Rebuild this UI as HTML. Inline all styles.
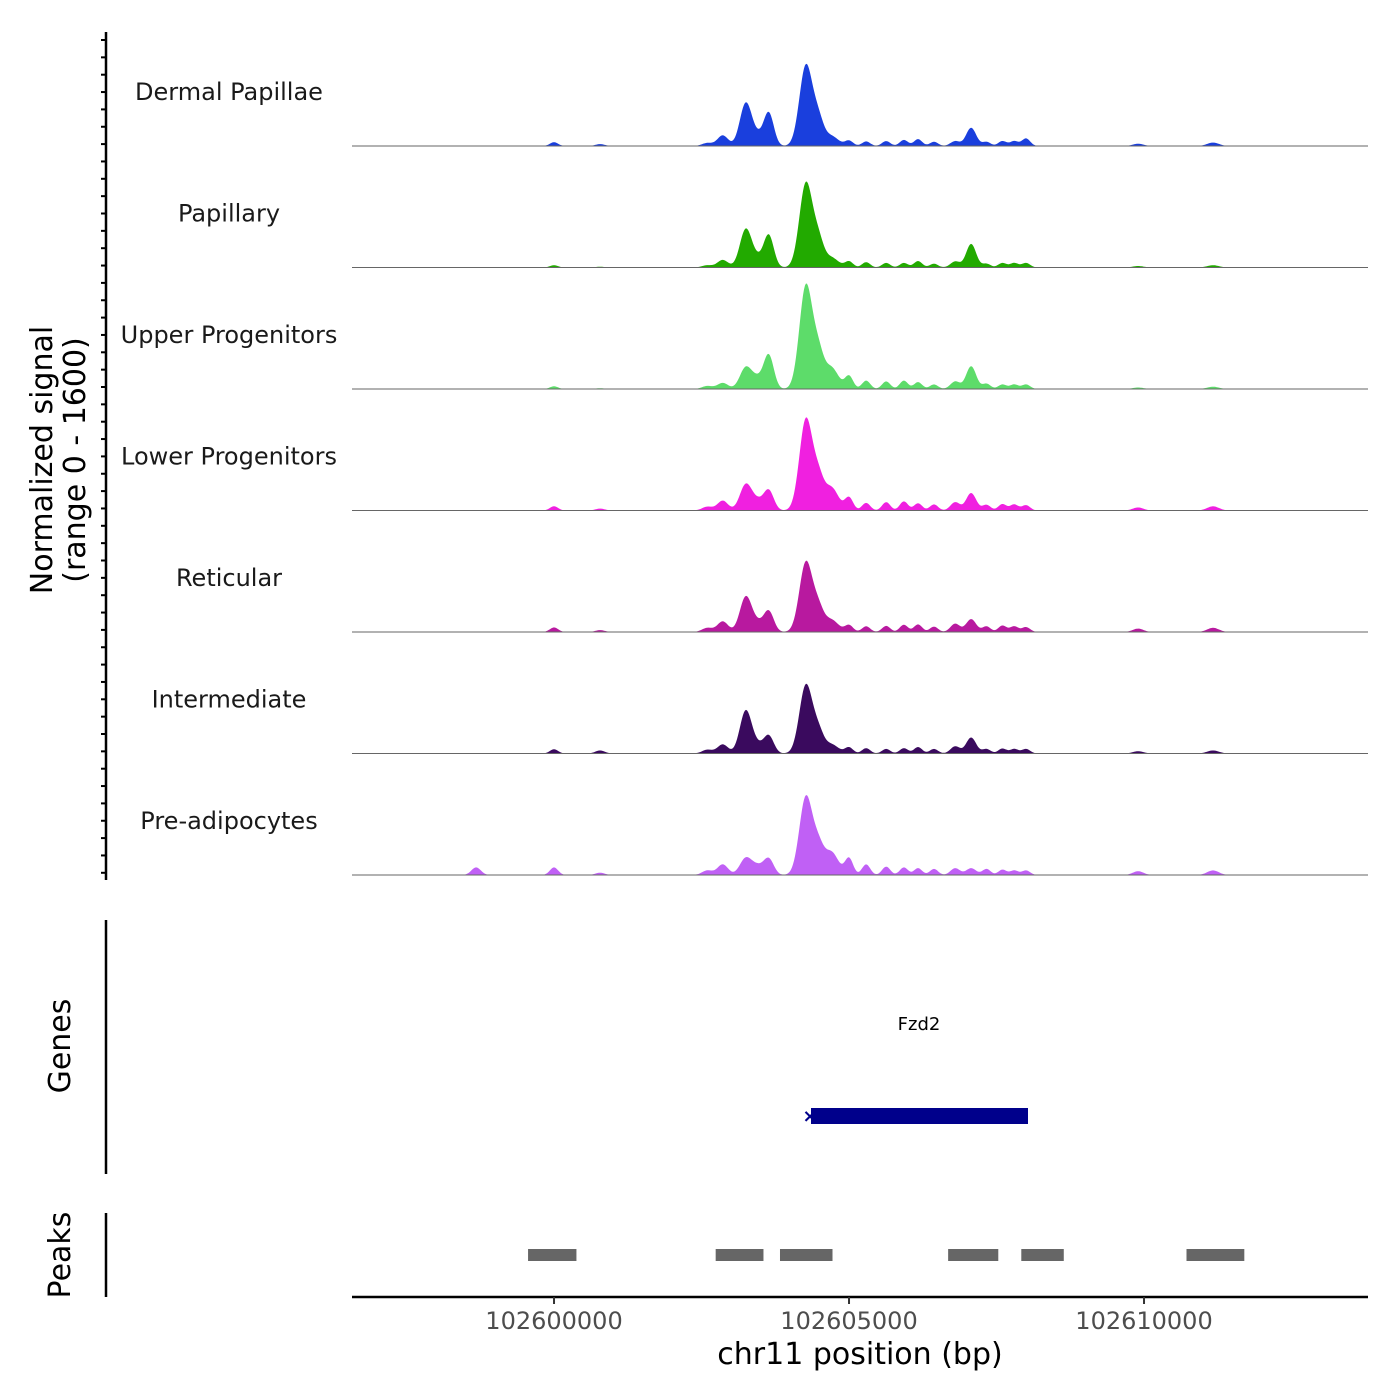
<!DOCTYPE html>
<html><head><meta charset="utf-8">
<style>
body{margin:0;background:#fff;}
svg{display:block;font-family:"DejaVu Sans","Liberation Sans",sans-serif;}
</style></head>
<body>
<svg id="chart" width="1400" height="1400" viewBox="0 0 1400 1400">
<g id="tracks"></g>
<g id="yaxis"></g>
<text x="0" y="0" transform="translate(52,460) rotate(-90)" text-anchor="middle" font-size="30" fill="#000"><tspan x="0" dy="0">Normalized signal</tspan><tspan x="0" dy="33">(range 0 - 1600)</tspan></text>
<line x1="106" y1="920" x2="106" y2="1174" stroke="#000" stroke-width="2.5"/>
<text transform="translate(70,1046) rotate(-90)" text-anchor="middle" font-size="30">Genes</text>
<text x="919" y="1030" text-anchor="middle" font-size="18">Fzd2</text>
<rect x="811" y="1108" width="217" height="16" fill="#00008b"/>
<text x="810" y="1122" text-anchor="middle" font-size="18" fill="#00008b" font-weight="bold">×</text>
<line x1="106" y1="1213" x2="106" y2="1297" stroke="#000" stroke-width="2.5"/>
<text transform="translate(70,1255) rotate(-90)" text-anchor="middle" font-size="30">Peaks</text>
<g id="peaks"></g>
<line x1="352" y1="1297" x2="1368" y2="1297" stroke="#000" stroke-width="2.5"/>
<g id="xaxis"></g>
<text x="860" y="1364" text-anchor="middle" font-size="30">chr11 position (bp)</text>
</svg>
<script>
const trackNames = ["Dermal Papillae","Papillary","Upper Progenitors","Lower Progenitors","Reticular","Intermediate","Pre-adipocytes"];
const trackColors = ["#1a3fdd","#22aa00","#5ddc6a","#f020e0","#b8199f","#3a0a5e","#c060f5"];
const peakCenters = [102598680,102600000,102600780,102602600,102602860,102603250,102603640,102603450,102604270,102604480,102604700,102605000,102605290,102605630,102605930,102606170,102606440,102606800,102607070,102607330,102607600,102607800,102608000,102609900,102611170];
const peakSigmas = [80,70,80,90,90,100,85,100,110,90,120,70,70,70,70,70,70,80,85,70,70,70,70,90,100];
const dermalValues = [5,50,25,40,140,560,430,120,1060,320,130,70,60,65,80,90,55,65,240,55,65,65,100,30,45];
const papillaryValues = [5,30,10,30,100,500,420,110,1110,330,130,80,70,60,60,85,50,80,310,50,60,60,60,20,30];
const upperValues = [5,35,10,40,80,280,440,130,1360,420,280,170,110,100,110,90,60,100,300,70,60,60,60,20,30];
const lowerValues = [5,55,25,50,130,340,260,120,1200,380,300,170,100,110,120,95,80,110,230,75,85,80,70,40,55];
const reticularValues = [5,60,25,55,140,460,270,110,920,280,160,90,75,80,95,100,70,110,170,75,85,75,65,45,55];
const intermediateValues = [5,55,40,50,120,560,230,100,900,260,120,80,70,60,70,85,60,95,210,60,65,60,60,30,40];
const preadipoValues = [100,100,30,60,140,220,210,110,1030,330,300,220,140,110,100,90,80,90,90,80,70,60,60,50,60];
const trackValues = [dermalValues,papillaryValues,upperValues,lowerValues,reticularValues,intermediateValues,preadipoValues];
const xTicks = [102600000,102605000,102610000];
const peakStarts = [102599560,102602740,102603830,102606680,102607920,102610720];
const peakEnds = [102600380,102603550,102604720,102607530,102608640,102611700];

const NS='http://www.w3.org/2000/svg';
const X0=352,X1=1368,BP0=102596576,PXPERBP=295/5000;
const sx = bp => X0+(bp-BP0)*PXPERBP;
const trackH=121.5, firstBase=146, maxSig=1600;
const sy = (v,i) => firstBase+i*trackH - v/maxSig*trackH;
function mk(tag,attrs,parent){const e=document.createElementNS(NS,tag);for(const k in attrs)e.setAttribute(k,attrs[k]);parent.appendChild(e);return e;}

const tg=document.getElementById('tracks');
trackNames.forEach((name,i)=>{
  const base=firstBase+i*trackH;
  const vals=trackValues[i];
  let d='M'+X0+','+base;
  for(let px=X0;px<=X1;px+=1){
    const bp=BP0+(px-X0)/PXPERBP;
    let v=0;
    for(let k=0;k<peakCenters.length;k++){const z=(bp-peakCenters[k])/peakSigmas[k];v+=vals[k]*Math.exp(-0.5*z*z);}
    d+=' L'+px+','+sy(v,i).toFixed(1);
  }
  d+=' L'+X1+','+base+' Z';
  const p=mk('path',{d:d,fill:trackColors[i]},tg);
  
  
  const bl=mk('line',{x1:X0,x2:X1,y1:base,y2:base,stroke:'#666','stroke-width':1},tg);
  
  
  const t=mk('text',{x:229,y:base-46,'text-anchor':'middle','font-size':24,fill:'#1a1a1a'},tg);
  t.textContent=name;
  
  
});

const ya=document.getElementById('yaxis');
const axl=mk('line',{x1:106,y1:32,x2:106,y2:880,stroke:'#000','stroke-width':2.5},ya);


for(let y=40;y<=878;y+=17.35){
  const tk=mk('line',{x1:101,y1:y,x2:106,y2:y,stroke:'#000','stroke-width':2},ya);
  
  
}

const pg=document.getElementById('peaks');
peakStarts.forEach((s,i)=>{
  const r=mk('rect',{x:sx(s),y:1249,width:sx(peakEnds[i])-sx(s),height:12,fill:'#666'},pg);
  
  
});

const xa=document.getElementById('xaxis');
xTicks.forEach(v=>{
  const x=sx(v);
  const l=mk('line',{x1:x,x2:x,y1:1297,y2:1304,stroke:'#333','stroke-width':2},xa);
  
  
  const t=mk('text',{x:x,y:1329,'text-anchor':'middle','font-size':24,fill:'#4d4d4d'},xa);
  t.textContent=v;
  
  
});
</script>
</body></html>
